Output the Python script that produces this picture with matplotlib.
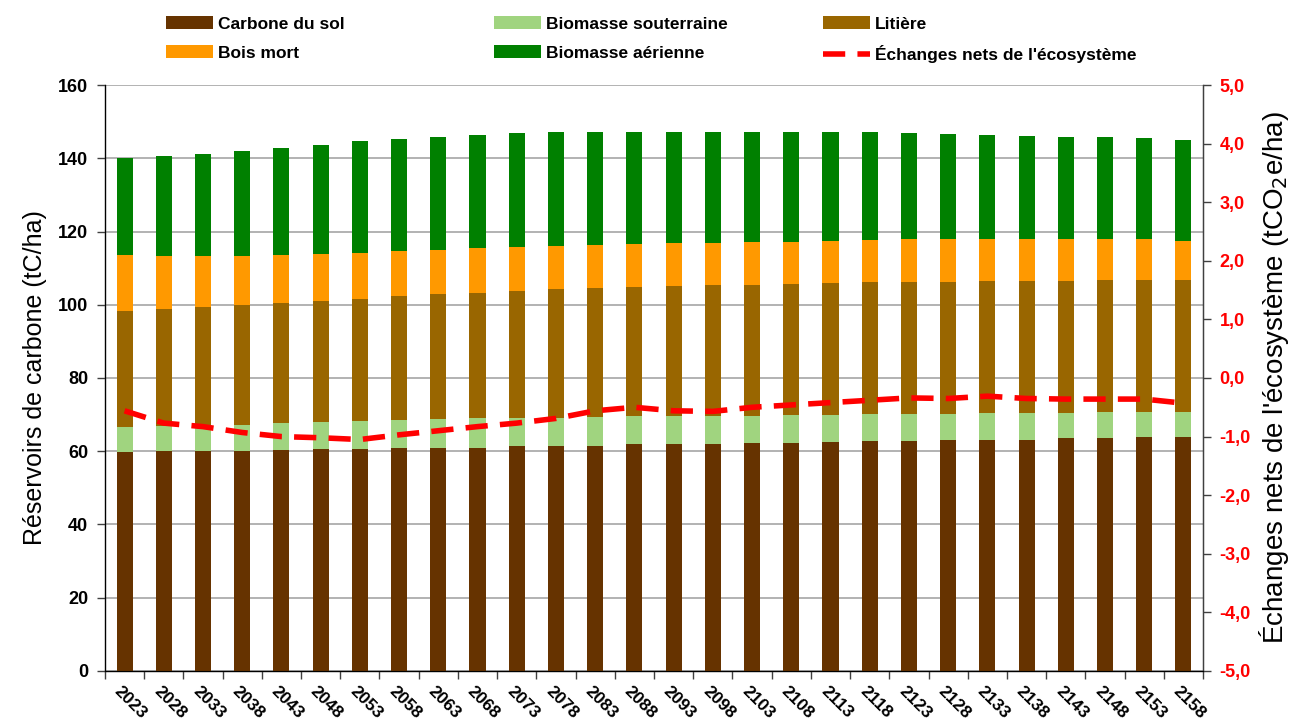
import numpy as np
import matplotlib
matplotlib.use('Agg')
import matplotlib.pyplot as plt
import matplotlib.transforms as mtransforms
from matplotlib.ticker import FuncFormatter

plt.rcParams['font.family'] = ['Liberation Sans', 'DejaVu Sans']

# Years (one bar every 5 years)
years = [2023, 2028, 2033, 2038, 2043, 2048, 2053, 2058, 2063, 2068,
         2073, 2078, 2083, 2088, 2093, 2098, 2103, 2108, 2113, 2118,
         2123, 2128, 2133, 2138, 2143, 2148, 2153, 2158]

# Cumulative tops (tC/ha), converted to layers below
soilTop   = [59.9, 60.1, 60.1, 60.1, 60.3, 60.6, 60.6, 60.8, 60.8, 61.0,
             61.3, 61.3, 61.5, 61.9, 61.9, 62.1, 62.3, 62.3, 62.5, 62.7,
             62.8, 63.0, 63.2, 63.2, 63.5, 63.5, 63.8, 64.0]
belowTop  = [66.5, 66.9, 67.1, 67.3, 67.7, 68.0, 68.2, 68.4, 68.7, 69.0,
             69.0, 69.1, 69.3, 69.5, 69.5, 69.6, 69.6, 69.9, 69.9, 70.1,
             70.2, 70.2, 70.4, 70.4, 70.4, 70.6, 70.6, 70.8]
litterTop = [98.4, 98.8, 99.4, 99.8, 100.5, 100.9, 101.6, 102.5, 102.8, 103.3,
             103.8, 104.3, 104.6, 104.8, 105.0, 105.3, 105.5, 105.8, 106.0, 106.2,
             106.2, 106.2, 106.5, 106.5, 106.5, 106.8, 106.8, 106.8]
deadTop   = [113.6, 113.3, 113.3, 113.3, 113.6, 113.8, 114.2, 114.8, 114.9, 115.4,
             115.7, 116.1, 116.3, 116.6, 116.8, 116.8, 117.1, 117.2, 117.5, 117.8,
             117.9, 117.9, 117.9, 117.9, 117.9, 117.9, 117.9, 117.5]
aerialTop = [140.0, 140.7, 141.2, 142.1, 142.9, 143.7, 144.6, 145.3, 145.8, 146.4,
             147.0, 147.2, 147.3, 147.1, 147.3, 147.3, 147.3, 147.3, 147.2, 147.1,
             147.0, 146.6, 146.3, 146.2, 145.9, 145.7, 145.4, 145.1]

# Net ecosystem exchange (tCO2e/ha), right axis
netExch   = [-0.56, -0.77, -0.83, -0.93, -1.00, -1.02, -1.05, -0.97, -0.90, -0.83,
             -0.77, -0.69, -0.56, -0.50, -0.56, -0.57, -0.50, -0.46, -0.42, -0.38,
             -0.34, -0.35, -0.31, -0.35, -0.36, -0.36, -0.36, -0.43]

soil   = np.array(soilTop)
below  = np.array(belowTop) - np.array(soilTop)
litter = np.array(litterTop) - np.array(belowTop)
dead   = np.array(deadTop) - np.array(litterTop)
aerial = np.array(aerialTop) - np.array(deadTop)

layers = [soil, below, litter, dead, aerial]
names  = ['Carbone du sol', 'Biomasse souterraine', 'Litière', 'Bois mort', 'Biomasse aérienne']
colors = ['#663300', '#a0d47f', '#996600', '#ff9900', '#008000']

fig = plt.figure(figsize=(12.94, 7.26), dpi=100)
ax = fig.add_axes([0.0811, 0.0758, 0.8486, 0.8071])

x = np.arange(len(years))
bottom = np.zeros(len(years))
bars = []
for vals, name, col in zip(layers, names, colors):
    b = ax.bar(x, vals, bottom=bottom, width=0.41, color=col, label=name, zorder=3)
    bars.append(b)
    bottom = bottom + vals

ax.set_xlim(-0.5, len(years) - 0.5)
ax.set_ylim(0, 160)
ax.set_yticks(np.arange(0, 161, 20))
ax.grid(True, axis='y', color='#a6a6a6', lw=1.2, zorder=0)
ax.tick_params(axis='y', labelsize=13, length=6, width=1, color='#404040', pad=6)
for t in ax.get_yticklabels():
    t.set_fontweight('bold')

# ticks at category boundaries, labels at centres
ax.set_xticks(np.arange(-0.5, len(years), 1))
ax.set_xticklabels([])
ax.tick_params(axis='x', length=6, width=1, color='#404040')
ax.set_xticks(x, minor=True)
ax.set_xticklabels([str(y) for y in years], minor=True, rotation=-45,
                   ha='center', va='top', fontsize=12.5, fontweight='bold')
ax.tick_params(axis='x', which='minor', length=0, pad=9)
offset = mtransforms.ScaledTranslation(6 / 100, 0, fig.dpi_scale_trans)
for t in ax.get_xticklabels(minor=True):
    t.set_transform(t.get_transform() + offset)

ax.spines['top'].set_visible(False)
for s in ['left', 'bottom', 'right']:
    ax.spines[s].set_color('#404040')
    ax.spines[s].set_linewidth(1)

ax.set_ylabel('Réservoirs de carbone (tC/ha)', fontsize=18, labelpad=8)

ax2 = ax.twinx()
line, = ax2.plot(x, netExch, color='#ff0000', lw=4, ls=(0, (4, 2.2)),
                 label="Échanges nets de l'écosystème", zorder=5)
ax2.set_ylim(-5, 5)
ax2.set_yticks(np.arange(-5, 5.1, 1))
ax2.yaxis.set_major_formatter(FuncFormatter(lambda v, p: f'{v:.1f}'.replace('.', ',')))
ax2.tick_params(axis='y', labelsize=13, length=6, width=1, color='#404040',
                labelcolor='#ff0000', pad=6)
for t in ax2.get_yticklabels():
    t.set_fontweight('bold')
ax2.spines['top'].set_visible(False)
ax2.spines['right'].set_color('#404040')
ax2.set_ylabel("Échanges nets de l'écosystème (tCO$_2$e/ha)", fontsize=20,
               rotation=90, labelpad=4)

# legend: one small legend per column, placed like the original
cols = [([bars[0], bars[3]], 0.116), ([bars[1], bars[4]], 0.370), ([bars[2], line], 0.624)]
for hs, xpos in cols:
    fig.legend(hs, [h.get_label() for h in hs], loc='upper left',
               bbox_to_anchor=(xpos, 0.999), frameon=False,
               prop={'weight': 'bold', 'size': 12.5},
               handlelength=2.7, handleheight=0.7, handletextpad=0.3,
               labelspacing=0.8)

fig.savefig('out.png', dpi=100)
